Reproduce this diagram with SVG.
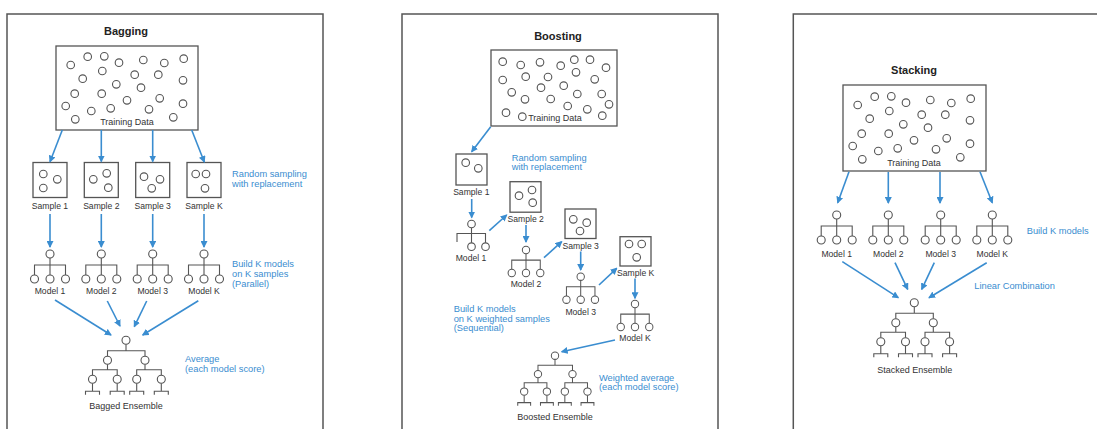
<svg xmlns="http://www.w3.org/2000/svg" width="1097" height="429" viewBox="0 0 1097 429">
<style>
.frame{fill:none;stroke:#555;stroke-width:1.5}
.box{fill:#fff;stroke:#555;stroke-width:1.3}
.dot{fill:#fff;stroke:#555;stroke-width:1.1}
.ln{fill:none;stroke:#555;stroke-width:1.1}
.t{font-family:"Liberation Sans",Arial,sans-serif;fill:#333;font-size:8.6px;text-anchor:middle}
.td{font-family:"Liberation Sans",Arial,sans-serif;fill:#333;font-size:9px;text-anchor:middle}
.tt{font-family:"Liberation Sans",Arial,sans-serif;fill:#222;font-size:11px;font-weight:bold;text-anchor:middle}
.b{font-family:"Liberation Sans",Arial,sans-serif;fill:#3a8dd0;font-size:9.3px}
.arr{fill:none;stroke:#3a8dd0;stroke-width:1.6;marker-end:url(#ah)}
</style>
<defs>
<marker id="ah" markerUnits="userSpaceOnUse" markerWidth="7" markerHeight="7" refX="6" refY="3.5" orient="auto"><path d="M0,0 L7,3.5 L0,7 z" fill="#3a8dd0"/></marker>
<g id="dataA">
<circle class="dot" r="3.8" cx="14.7" cy="19"/><circle class="dot" r="3.8" cx="31.7" cy="10.7"/><circle class="dot" r="3.8" cx="48.3" cy="10.3"/><circle class="dot" r="3.8" cx="63" cy="16.7"/><circle class="dot" r="3.8" cx="87.3" cy="14"/><circle class="dot" r="3.8" cx="108.3" cy="17"/><circle class="dot" r="3.8" cx="127.7" cy="12.7"/><circle class="dot" r="3.8" cx="26.7" cy="32.7"/><circle class="dot" r="3.8" cx="46.3" cy="25"/><circle class="dot" r="3.8" cx="78.7" cy="28.7"/><circle class="dot" r="3.8" cx="102.3" cy="28.7"/><circle class="dot" r="3.8" cx="127" cy="34.3"/><circle class="dot" r="3.8" cx="60.3" cy="38.3"/><circle class="dot" r="3.8" cx="85" cy="41.7"/><circle class="dot" r="3.8" cx="18.7" cy="47.7"/><circle class="dot" r="3.8" cx="45.7" cy="47.7"/><circle class="dot" r="3.8" cx="71" cy="54.3"/><circle class="dot" r="3.8" cx="103.7" cy="52.3"/><circle class="dot" r="3.8" cx="9.7" cy="60"/><circle class="dot" r="3.8" cx="35.3" cy="65"/><circle class="dot" r="3.8" cx="54.7" cy="62.3"/><circle class="dot" r="3.8" cx="93" cy="63.3"/><circle class="dot" r="3.8" cx="127" cy="57.7"/><circle class="dot" r="3.8" cx="19.3" cy="73.3"/><circle class="dot" r="3.8" cx="117.3" cy="71.3"/>
</g>
<g id="model">
<path class="ln" d="M0,4V11M-15.5,21V11H15.5V21M0,11V21"/>
<circle class="dot" r="4" cx="0" cy="0"/><circle class="dot" r="4" cx="-15.5" cy="25"/><circle class="dot" r="4" cx="0" cy="25"/><circle class="dot" r="4" cx="15.5" cy="25"/>
</g>
<g id="ens">
<path class="ln" d="M0,4V10.5M-18.5,16V10.5H19V16M-18.5,24V29.5M-33.5,35V29.5H-8.8V35M19,24V29.5M10.7,35V29.5H35.3V35M-33.5,43V51M-40.5,54.5V51H-26.5V54.5M-8.8,43V51M-15.8,54.5V51H-1.8V54.5M10.7,43V51M3.7,54.5V51H17.7V54.5M35.3,43V51M28.3,54.5V51H42.3V54.5"/>
<circle class="dot" r="4" cx="0" cy="0"/><circle class="dot" r="4" cx="-18.5" cy="20"/><circle class="dot" r="4" cx="19" cy="20"/>
<circle class="dot" r="4" cx="-33.5" cy="39"/><circle class="dot" r="4" cx="-8.8" cy="39"/><circle class="dot" r="4" cx="10.7" cy="39"/><circle class="dot" r="4" cx="35.3" cy="39"/>
</g>
</defs>
<rect width="1097" height="429" fill="#fff"/>

<!-- Panels -->
<g id="panel-bagging"><rect class="frame" x="7" y="14" width="316" height="430"/><text class="tt" x="126" y="35">Bagging</text></g>
<g id="panel-boosting"><rect class="frame" x="402" y="14" width="316" height="430"/><text class="tt" x="558" y="39.5">Boosting</text></g>
<g id="panel-stacking"><rect class="frame" x="793.3" y="14" width="330" height="430"/><text class="tt" x="914" y="74">Stacking</text></g>

<!-- Bagging -->
<g id="bag-train"><rect class="box" x="56" y="46" width="142" height="84"/><use href="#dataA" x="56" y="46"/><text class="td" x="127" y="125">Training Data</text></g>
<g id="bag-s1"><rect class="box" x="33" y="162.5" width="34" height="35"/><circle class="dot" r="3.8" cx="43.3" cy="174"/><circle class="dot" r="3.8" cx="57.3" cy="179.3"/><circle class="dot" r="3.8" cx="43.3" cy="188"/><text class="t" x="50" y="209">Sample 1</text></g>
<g id="bag-s2"><rect class="box" x="84.3" y="162.5" width="34" height="35"/><circle class="dot" r="3.8" cx="93.3" cy="179.3"/><circle class="dot" r="3.8" cx="106.7" cy="173.3"/><circle class="dot" r="3.8" cx="108.3" cy="187.7"/><text class="t" x="101.3" y="209">Sample 2</text></g>
<g id="bag-s3"><rect class="box" x="135.7" y="162.5" width="34" height="35"/><circle class="dot" r="3.8" cx="144" cy="176.7"/><circle class="dot" r="3.8" cx="160" cy="179.3"/><circle class="dot" r="3.8" cx="151.7" cy="188.3"/><text class="t" x="152.7" y="209">Sample 3</text></g>
<g id="bag-sk"><rect class="box" x="187" y="162.5" width="34" height="35"/><circle class="dot" r="3.8" cx="195.7" cy="174"/><circle class="dot" r="3.8" cx="206" cy="174"/><circle class="dot" r="3.8" cx="205" cy="188.3"/><text class="t" x="204" y="209">Sample K</text></g>
<g id="bag-m1"><use href="#model" x="50" y="254"/><text class="t" x="50" y="294">Model 1</text></g>
<g id="bag-m2"><use href="#model" x="101.3" y="254"/><text class="t" x="101.3" y="294">Model 2</text></g>
<g id="bag-m3"><use href="#model" x="152.7" y="254"/><text class="t" x="152.7" y="294">Model 3</text></g>
<g id="bag-mk"><use href="#model" x="204" y="254"/><text class="t" x="204" y="294">Model K</text></g>
<g id="bag-ens"><use href="#ens" x="126" y="340.3"/><text class="td" x="126" y="409">Bagged Ensemble</text></g>
<g id="bag-notes">
<text class="b" x="232" y="177">Random sampling</text><text class="b" x="232" y="187">with replacement</text>
<text class="b" x="232" y="267.3">Build K models</text><text class="b" x="232" y="277.3">on K samples</text><text class="b" x="232" y="287.3">(Parallel)</text>
<text class="b" x="185" y="361.7">Average</text><text class="b" x="185" y="371.7">(each model score)</text>
</g>

<!-- Boosting -->
<g id="boo-train"><rect class="box" x="491" y="50" width="126" height="76"/>
<circle class="dot" r="3.8" cx="502.7" cy="61.7"/><circle class="dot" r="3.8" cx="520.7" cy="65"/><circle class="dot" r="3.8" cx="540" cy="62.3"/><circle class="dot" r="3.8" cx="560.7" cy="65.7"/><circle class="dot" r="3.8" cx="574.3" cy="59.7"/><circle class="dot" r="3.8" cx="590" cy="59.7"/><circle class="dot" r="3.8" cx="606" cy="67.7"/><circle class="dot" r="3.8" cx="502.7" cy="80"/><circle class="dot" r="3.8" cx="525.7" cy="76.7"/><circle class="dot" r="3.8" cx="548" cy="77"/><circle class="dot" r="3.8" cx="576" cy="72.3"/><circle class="dot" r="3.8" cx="594.7" cy="79.3"/><circle class="dot" r="3.8" cx="511.7" cy="92.3"/><circle class="dot" r="3.8" cx="541" cy="87.7"/><circle class="dot" r="3.8" cx="563.7" cy="85.7"/><circle class="dot" r="3.8" cx="525" cy="99.3"/><circle class="dot" r="3.8" cx="550.7" cy="99"/><circle class="dot" r="3.8" cx="577.3" cy="94"/><circle class="dot" r="3.8" cx="601.7" cy="94"/><circle class="dot" r="3.8" cx="506" cy="112.7"/><circle class="dot" r="3.8" cx="522.3" cy="116.7"/><circle class="dot" r="3.8" cx="567.7" cy="106"/><circle class="dot" r="3.8" cx="587.3" cy="109.3"/><circle class="dot" r="3.8" cx="609" cy="104.3"/><circle class="dot" r="3.8" cx="602.3" cy="115.7"/>
<text class="td" x="555" y="121">Training Data</text></g>
<g id="boo-s1"><rect class="box" x="456" y="154" width="31" height="31"/><circle class="dot" r="3.8" cx="465.7" cy="162.7"/><circle class="dot" r="3.8" cx="478.3" cy="168.3"/><text class="t" x="471.3" y="195.3">Sample 1</text></g>
<g id="boo-s2"><rect class="box" x="510" y="181.7" width="31" height="30.5"/><circle class="dot" r="3.8" cx="519" cy="195.7"/><circle class="dot" r="3.8" cx="532" cy="190"/><circle class="dot" r="3.8" cx="532.7" cy="202.7"/><text class="t" x="525.7" y="222.3">Sample 2</text></g>
<g id="boo-s3"><rect class="box" x="565" y="209" width="31" height="29.5"/><circle class="dot" r="3.8" cx="573.3" cy="219.3"/><circle class="dot" r="3.8" cx="586.7" cy="222.7"/><circle class="dot" r="3.8" cx="580" cy="231"/><text class="t" x="580.7" y="248.7">Sample 3</text></g>
<g id="boo-sk"><rect class="box" x="620" y="236.7" width="31" height="29.3"/><circle class="dot" r="3.8" cx="629" cy="244"/><circle class="dot" r="3.8" cx="641.7" cy="244"/><circle class="dot" r="3.8" cx="636.7" cy="257.3"/><text class="t" x="635.7" y="275.7">Sample K</text></g>
<g id="boo-m1"><path class="ln" d="M471.5,228V233.5M457,242V233.5H485.5V242.7M471.5,233.5V242.7"/><circle class="dot" r="3.8" cx="471.5" cy="224"/><circle class="dot" r="3.8" cx="471.5" cy="246.7"/><circle class="dot" r="3.8" cx="485.5" cy="246.7"/><text class="t" x="471" y="261.3">Model 1</text></g>
<g id="boo-m2"><use href="#model" transform="translate(526,250) scale(0.92)"/><text class="t" x="526" y="287.3">Model 2</text></g>
<g id="boo-m3"><use href="#model" transform="translate(580.7,276.7) scale(0.92)"/><text class="t" x="580.7" y="314.7">Model 3</text></g>
<g id="boo-mk"><use href="#model" transform="translate(635,304) scale(0.92)"/><text class="t" x="635" y="341.3">Model K</text></g>
<g id="boo-ens"><use href="#ens" transform="translate(555,355.7) scale(0.92)"/><text class="td" x="555" y="419.7">Boosted Ensemble</text></g>
<g id="boo-notes">
<text class="b" x="511.7" y="161.3">Random sampling</text><text class="b" x="511.7" y="170.3">with replacement</text>
<text class="b" x="453.7" y="312.3">Build K models</text><text class="b" x="453.7" y="321.5">on K weighted samples</text><text class="b" x="453.7" y="330.5">(Sequential)</text>
<text class="b" x="599" y="381">Weighted average</text><text class="b" x="599" y="390">(each model score)</text>
</g>

<!-- Stacking -->
<g id="sta-train"><rect class="box" x="843" y="85" width="143" height="86"/><use href="#dataA" x="843" y="86"/><text class="td" x="914" y="166">Training Data</text></g>
<g id="sta-m1"><use href="#model" x="836.7" y="215"/><text class="t" x="836.7" y="256.5">Model 1</text></g>
<g id="sta-m2"><use href="#model" x="888.3" y="215"/><text class="t" x="888.3" y="256.5">Model 2</text></g>
<g id="sta-m3"><use href="#model" x="940.7" y="215"/><text class="t" x="940.7" y="256.5">Model 3</text></g>
<g id="sta-mk"><use href="#model" x="992.3" y="215"/><text class="t" x="992.3" y="256.5">Model K</text></g>
<g id="sta-ens"><use href="#ens" x="914.3" y="302.7"/><text class="td" x="914.7" y="373">Stacked Ensemble</text></g>
<g id="sta-notes">
<text class="b" x="1026.7" y="234.3">Build K models</text>
<text class="b" x="974.3" y="288.7">Linear Combination</text>
</g>

<!-- Connectors -->
<g id="connectors">
<line class="arr" x1="62.3" y1="130" x2="50" y2="161.7"/>
<line class="arr" x1="101.3" y1="130" x2="101.3" y2="161.5"/>
<line class="arr" x1="152.7" y1="130" x2="152.7" y2="161.5"/>
<line class="arr" x1="191.7" y1="130" x2="204.3" y2="162"/>
<line class="arr" x1="50" y1="214" x2="50" y2="247"/>
<line class="arr" x1="101.3" y1="214" x2="101.3" y2="247"/>
<line class="arr" x1="152.7" y1="214" x2="152.7" y2="247"/>
<line class="arr" x1="204" y1="214" x2="204" y2="247"/>
<line class="arr" x1="55" y1="300" x2="111" y2="335"/>
<line class="arr" x1="107.3" y1="301" x2="120" y2="326"/>
<line class="arr" x1="146.7" y1="301" x2="134.3" y2="326.7"/>
<line class="arr" x1="198.3" y1="300.7" x2="142.7" y2="335"/>

<line class="arr" x1="490.7" y1="126.7" x2="471.7" y2="151.7"/>
<line class="arr" x1="471.7" y1="199" x2="471.7" y2="217.5"/>
<line class="arr" x1="489.3" y1="230.7" x2="506.7" y2="215"/>
<line class="arr" x1="526" y1="225" x2="526" y2="242"/>
<line class="arr" x1="544" y1="257.7" x2="561.7" y2="241.7"/>
<line class="arr" x1="580.7" y1="251.5" x2="580.7" y2="270"/>
<line class="arr" x1="599" y1="285" x2="616.7" y2="268.3"/>
<line class="arr" x1="635" y1="278.5" x2="635" y2="298.3"/>
<line class="arr" x1="615" y1="340" x2="561.7" y2="351.7"/>

<line class="arr" x1="849" y1="171.7" x2="837.7" y2="202.7"/>
<line class="arr" x1="888.3" y1="172" x2="888.3" y2="203"/>
<line class="arr" x1="940" y1="172" x2="940" y2="203"/>
<line class="arr" x1="980" y1="171.7" x2="992.3" y2="202.7"/>
<line class="arr" x1="842.3" y1="261.7" x2="898.3" y2="297.7"/>
<line class="arr" x1="895" y1="262.7" x2="907.7" y2="289.3"/>
<line class="arr" x1="934.3" y1="262.7" x2="921.7" y2="289.3"/>
<line class="arr" x1="986.7" y1="262.7" x2="929" y2="297.7"/>
</g>
</svg>
